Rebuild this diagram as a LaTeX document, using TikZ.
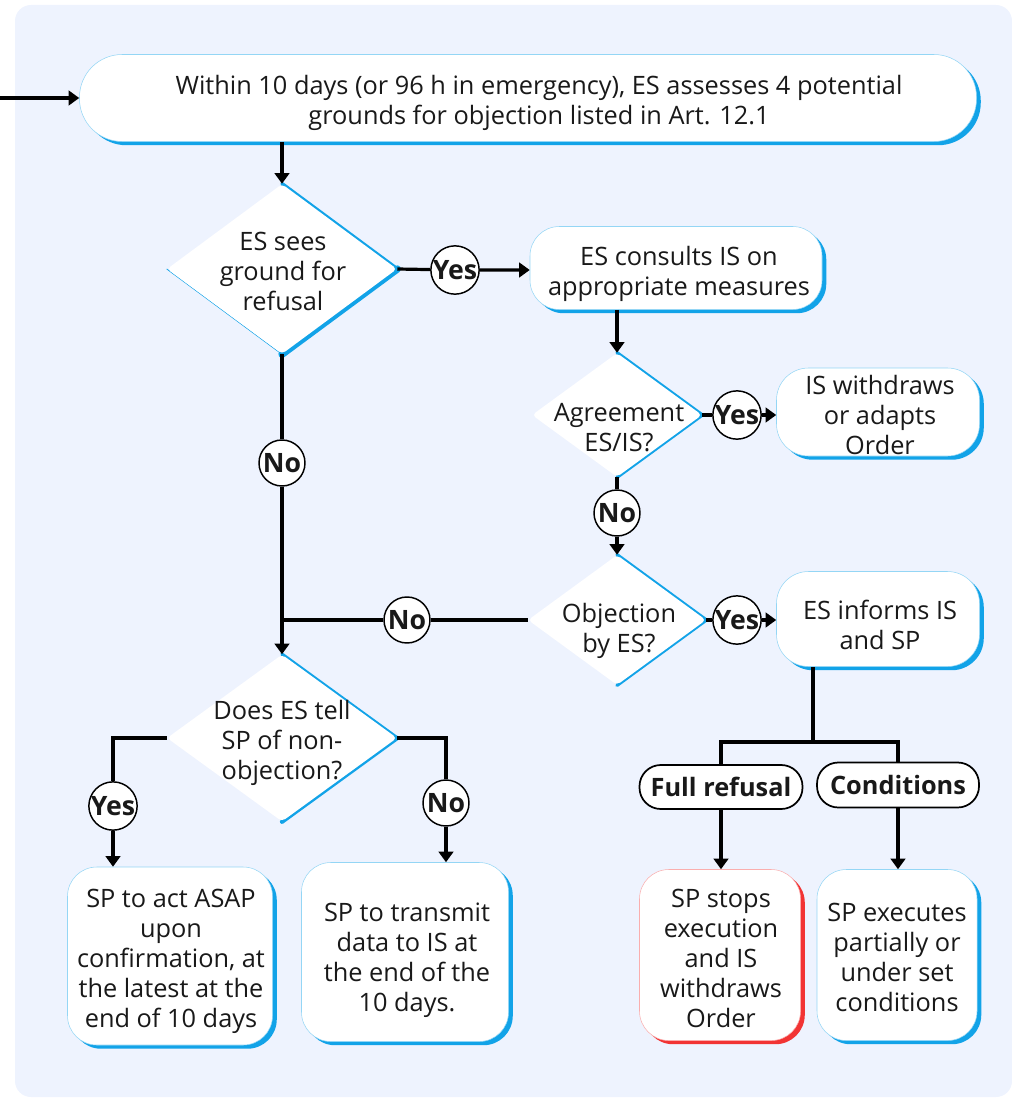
\documentclass[tikz,border=0pt]{standalone}
\usepackage{fontspec}
\setmainfont{Open Sans}
\usetikzlibrary{shapes.geometric,arrows.meta,shadows}
\definecolor{bgc}{RGB}{238,243,254}
\definecolor{cblue}{RGB}{18,163,232}
\definecolor{cred}{RGB}{242,52,52}
\definecolor{ink}{RGB}{25,25,25}
\pgfdeclarelayer{bg}
\pgfdeclarelayer{edge}
\pgfsetlayers{bg,edge,main}
\begin{document}
\begin{tikzpicture}[x=0.75pt,y=-0.75pt,
  font=\fontsize{19}{22.5}\selectfont, text=ink,
  cardbase/.style={rectangle, rounded corners=22pt, fill=white, line width=0.4pt, inner sep=0pt},
  card/.style={cardbase, draw=cblue!45, drop shadow={shadow xshift=3.2pt, shadow yshift=-2.8pt, fill=cblue, opacity=1}},
  redcard/.style={cardbase, draw=cred!40, drop shadow={shadow xshift=3.2pt, shadow yshift=-2.8pt, fill=cred, opacity=1}},
  dia/.style={diamond, fill=white, inner sep=0pt, rounded corners=3pt},
  txt/.style={align=center, inner sep=0pt},
  lbl/.style={circle, draw=black, fill=white, line width=1.1pt, minimum size=34.5pt, inner sep=0pt, font=\fontsize{20}{22}\selectfont\bfseries},
  pill/.style={rectangle, rounded corners=16pt, draw=black, fill=white, line width=1.3pt, inner sep=0pt, font=\fontsize{19}{22}\selectfont\bfseries},
  conn/.style={draw=black, line width=2.4pt},
  arr/.style={conn, -{Triangle[length=8pt,width=11pt]}},
  blueedge/.style={draw=cblue, line cap=round, line join=round}
]
\useasboundingbox (0,0) rectangle (1012,1098);
\begin{pgfonlayer}{bg}
\fill[bgc, rounded corners=12pt] (15,5) rectangle (1012,1097);
\end{pgfonlayer}

% boxes
\node[card, rounded corners=32pt, minimum width=672.75pt, minimum height=65.25pt] (t) at (528,98) {};
\node[txt] (tt) at (539,103) {Within 10 days (or 96 h in emergency), ES assesses 4 potential\\grounds for objection listed in Art. 12.1};
\node[card, minimum width=219pt, minimum height=62.25pt] (c2) at (676,268) {};
\node[txt] (c2t) at (679,274) {ES consults IS on\\appropriate measures};
\node[card, rounded corners=24pt, minimum width=152.25pt, minimum height=66pt] (w) at (878,412) {};
\node[txt] (wt) at (880,415) {IS withdraws\\or adapts\\Order};
\node[card, rounded corners=24pt, minimum width=152.25pt, minimum height=71.25pt] (e) at (878,619) {};
\node[txt] (et) at (880,625) {ES informs IS\\and SP};
\node[card, minimum width=153.75pt, minimum height=133.5pt] (b1) at (170,956) {};
\node[txt] (b1t) at (171,961) {SP to act ASAP\\upon\\confirmation, at\\the latest at the\\end of 10 days};
\node[card, minimum width=155.25pt, minimum height=134.25pt] (b2) at (405,952) {};
\node[txt] (b2t) at (407,960) {SP to transmit\\data to IS at\\the end of the\\10 days.};
\node[redcard, minimum width=120.75pt, minimum height=128.25pt] (s1) at (720,955) {};
\node[txt] (s1t) at (721,958) {SP stops\\execution\\and IS\\withdraws\\Order};
\node[card, minimum width=120pt, minimum height=128.25pt] (s2) at (897,955) {};
\node[txt] (s2t) at (897,957) {SP executes\\partially or\\under set\\conditions};
\node[pill, minimum width=122.25pt, minimum height=33pt] (fr) at (721,787) {Full refusal};
\node[pill, minimum width=121.5pt, minimum height=33.75pt] (co) at (898,785) {Conditions};

% diamonds
\node[dia, minimum width=172.5pt, minimum height=127.5pt] (d1) at (282,269) {};
\node[dia, minimum width=127.5pt, minimum height=93pt] (d2) at (617,415) {};
\node[dia, minimum width=133.5pt, minimum height=97.5pt] (d3) at (617,620) {};
\node[dia, minimum width=172.5pt, minimum height=125.25pt] (d4) at (282,738) {};

\begin{pgfonlayer}{edge}
\draw[blueedge, line width=2.8pt] (d1.north) -- (d1.east);
\draw[blueedge, line width=5.5pt] (d1.east) -- (d1.south);
\draw[draw=cblue, line width=0.6pt] (d1.west) -- (d1.south);
\draw[blueedge, line width=2.6pt] (d2.north) -- (d2.east) -- (d2.south);
\draw[blueedge, line width=2.6pt] (d3.north) -- (d3.east) -- (d3.south);
\draw[blueedge, line width=2.6pt] (d4.north) -- (d4.east);
\draw[blueedge, line width=3.2pt] (d4.east) -- (d4.south);
\end{pgfonlayer}

\node[txt] (d1t) at (283,271) {ES sees\\ground for\\refusal};
\node[txt] (d2t) at (619,428) {Agreement\\ES/IS?};
\node[txt] (d3t) at (619,631) {Objection\\by ES?};
\node[txt] (d4t) at (282,743) {Does ES tell\\SP of non-\\objection?};

% labels
\node[lbl] (y1) at (455,270) {Yes};
\node[lbl] (n1) at (282,463) {No};
\node[lbl] (y2) at (737,415) {Yes};
\node[lbl] (n2) at (617,513) {No};
\node[lbl] (y3) at (737,620) {Yes};
\node[lbl] (n3) at (407,620) {No};
\node[lbl] (y4) at (113,806) {Yes};
\node[lbl] (n4) at (446,803) {No};

\coordinate (in) at (0,98);
\coordinate (j) at (813,742);

% connectors
\draw[arr] (in) -- (t);
\draw[arr] (d1.north |- t.south) -- (d1.north);
\draw[arr] (d1.east) -- (y1) -- (y1 -| c2.west);
\draw[arr] (d2.north |- c2.south) -- (d2.north);
\draw[arr] (d2.east) -- (y2) -- (y2 -| w.west);
\draw[arr] (d2.south) -- (n2) -- (d3.north);
\draw[arr] (d3.east) -- (y3) -- (y3 -| e.west);
\draw[conn] (d3.west) -- (n3) -- (n3 -| d1.south);
\draw[arr] (d1.south) -- (n1) -- (d4.north);
\draw[arr] (d4.west) -| (y4) -- (y4 |- b1.north);
\draw[arr] (d4.east) -| (n4) -- (n4 |- b2.north);
\draw[conn] (j |- e.south) -- (j);
\draw[conn] (fr.north) |- (j) -| (co.north);
\draw[arr] (fr.south) -- (fr.south |- s1.north);
\draw[arr] (co.south) -- (co.south |- s2.north);
\end{tikzpicture}
\end{document}
